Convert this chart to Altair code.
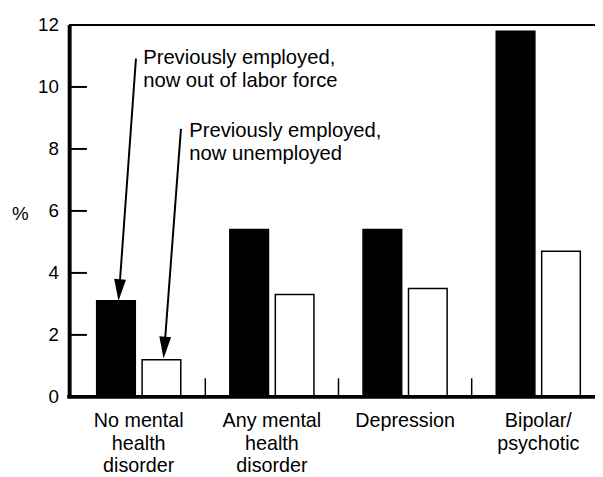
import altair as alt
import pandas as pd

# ---- data ----
categories = ["No mental health disorder", "Any mental health disorder", "Depression", "Bipolar/psychotic"]
category_lines = [["No mental", "health", "disorder"], ["Any mental", "health", "disorder"], ["Depression"], ["Bipolar/", "psychotic"]]
series = ["Previously employed, now out of labor force", "Previously employed, now unemployed"]
out_of_labor_force = [3.1, 5.4, 5.4, 11.8]
unemployed = [1.2, 3.3, 3.5, 4.7]
y_ticks = [0, 2, 4, 6, 8, 10, 12]
separator_categories = categories[1:]
annotation_1 = ["Previously employed,", "now out of labor force"]
annotation_2 = ["Previously employed,", "now unemployed"]

rows = []
for c, a, b in zip(categories, out_of_labor_force, unemployed):
    rows.append({"category": c, "series": series[0], "pct": a})
    rows.append({"category": c, "series": series[1], "pct": b})
bars_df = pd.DataFrame(rows)

W, H = 533, 377
FONT = "Liberation Sans"

# multi-line category labels
expr = ""
for c, lines in zip(categories, category_lines):
    arr = "[" + ", ".join("'" + s + "'" for s in lines) + "]"
    expr += "datum.label == '" + c + "' ? " + arr + " : "
expr += "datum.label"

x_scale = alt.Scale(domain=categories, range=[3, 543], paddingInner=0, paddingOuter=0)
y_scale = alt.Scale(domain=[0, 12], nice=False, zero=True)

x_axis = alt.Axis(title=None, labelExpr=expr, ticks=False, domain=False, labelAngle=0,
                  labelFontSize=20, labelPadding=14.5, labelBaseline="top",
                  labelLineHeight=22.5, labelColor="black", labelFont=FONT,
                  labelOverlap=False, labelLimit=0, grid=False)
y_axis = alt.Axis(values=y_ticks, title="%", titleAngle=0, titleX=-50, titleY=191.5,
                  titleAlign="center", titleBaseline="middle", titleFontSize=19,
                  titleFontWeight="normal", titleFont=FONT, titleColor="black",
                  labelFontSize=19, labelFont=FONT, labelPadding=11, ticks=False,
                  grid=False, domain=False, labelColor="black")

bars = alt.Chart(bars_df).mark_bar(stroke="black", strokeWidth=1.5).encode(
    x=alt.X("category:N", scale=x_scale, sort=categories, axis=x_axis),
    xOffset=alt.XOffset("series:N", sort=series,
                        scale=alt.Scale(domain=series, paddingInner=0.15, paddingOuter=0.54)),
    y=alt.Y("pct:Q", scale=y_scale, axis=y_axis),
    color=alt.Color("series:N", scale=alt.Scale(domain=series, range=["black", "white"]), legend=None),
)

seps = alt.Chart(pd.DataFrame({"category": separator_categories, "lo": [0, 0, 0], "hi": [0.6, 0.6, 0.6]})).mark_rule(
    color="black", strokeWidth=1.5).encode(
    x=alt.X("category:N", scale=x_scale, sort=categories, bandPosition=0, axis=x_axis),
    y=alt.Y("lo:Q", scale=y_scale, axis=y_axis),
    y2="hi:Q",
)

inner_ticks = alt.Chart(pd.DataFrame({"v": y_ticks})).mark_rule(color="black", strokeWidth=2).encode(
    y=alt.Y("v:Q", scale=y_scale, axis=y_axis),
    x=alt.value(0), x2=alt.value(18),
)

top_border = alt.Chart(pd.DataFrame({"v": [12]})).mark_rule(color="black", strokeWidth=2).encode(
    y=alt.Y("v:Q", scale=y_scale, axis=y_axis), x=alt.value(0), x2=alt.value(W))

base_line = alt.Chart(pd.DataFrame({"v": [0]})).mark_rule(color="black", strokeWidth=4).encode(
    y=alt.Y("v:Q", scale=y_scale, axis=y_axis), x=alt.value(-2), x2=alt.value(W))

left_axis = alt.Chart(pd.DataFrame({"lo": [0], "hi": [12]})).mark_rule(color="black", strokeWidth=4).encode(
    y=alt.Y("lo:Q", scale=y_scale, axis=y_axis), y2="hi:Q", x=alt.value(0.5))

one = pd.DataFrame({"k": [0]})

ann1 = alt.Chart(one).mark_text(align="left", baseline="alphabetic", fontSize=20.5, lineHeight=23,
                                font=FONT, color="black").encode(
    x=alt.value(75), y=alt.value(39.7), text=alt.value(annotation_1))
ann2 = alt.Chart(one).mark_text(align="left", baseline="alphabetic", fontSize=20.5, lineHeight=22.5,
                                font=FONT, color="black").encode(
    x=alt.value(121.7), y=alt.value(114), text=alt.value(annotation_2))

shaft1 = alt.Chart(one).mark_rule(color="black", strokeWidth=2).encode(
    x=alt.value(67.7), y=alt.value(34), x2=alt.value(51), y2=alt.value(266))
shaft2 = alt.Chart(one).mark_rule(color="black", strokeWidth=2).encode(
    x=alt.value(113.3), y=alt.value(105.3), x2=alt.value(97), y2=alt.value(322))

HEAD = "M0,0 L-0.6,-2.2 L0.6,-2.2 Z"
head1 = alt.Chart(one).mark_point(shape=HEAD, size=400, filled=True, color="black", opacity=1,
                                  angle=4.1).encode(x=alt.value(50), y=alt.value(279.7))
head2 = alt.Chart(one).mark_point(shape=HEAD, size=400, filled=True, color="black", opacity=1,
                                  angle=4.3).encode(x=alt.value(95.7), y=alt.value(338))

chart = alt.layer(
    bars, seps, inner_ticks, top_border, base_line, left_axis,
    ann1, ann2, shaft1, shaft2, head1, head2
).properties(
    width=W, height=H,
    autosize=alt.AutoSizeParams(type="none"),
    padding={"left": 62, "top": 14, "right": 0, "bottom": 78},
    background="white",
).configure_view(stroke=None).configure(font=FONT)

chart.save("out.html", embed_options={"renderer": "svg", "actions": False})
